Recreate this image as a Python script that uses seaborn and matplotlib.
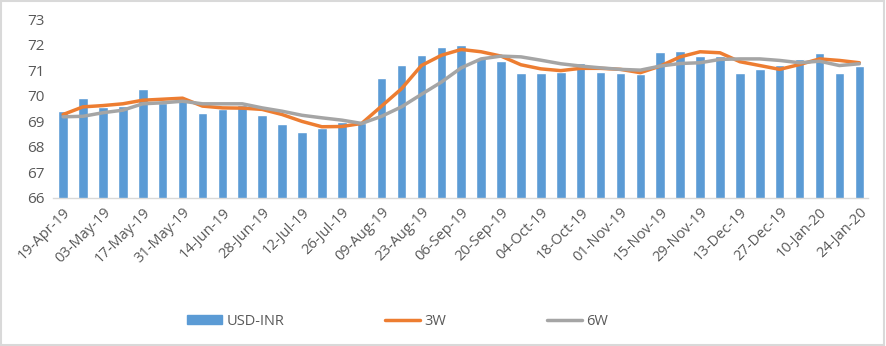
import numpy as np
import pandas as pd
import matplotlib
matplotlib.use("Agg")
import matplotlib.pyplot as plt
import seaborn as sns
from matplotlib.patches import Patch, Rectangle
from matplotlib.lines import Line2D

dates = ["19-Apr-19", "26-Apr-19", "03-May-19", "10-May-19", "17-May-19", "24-May-19",
         "31-May-19", "07-Jun-19", "14-Jun-19", "21-Jun-19", "28-Jun-19", "05-Jul-19",
         "12-Jul-19", "19-Jul-19", "26-Jul-19", "02-Aug-19", "09-Aug-19", "16-Aug-19",
         "23-Aug-19", "30-Aug-19", "06-Sep-19", "13-Sep-19", "20-Sep-19", "27-Sep-19",
         "04-Oct-19", "11-Oct-19", "18-Oct-19", "25-Oct-19", "01-Nov-19", "08-Nov-19",
         "15-Nov-19", "22-Nov-19", "29-Nov-19", "06-Dec-19", "13-Dec-19", "20-Dec-19",
         "27-Dec-19", "03-Jan-20", "10-Jan-20", "17-Jan-20", "24-Jan-20"]

usd_inr = [69.40, 69.90, 69.55, 69.60, 70.28, 69.73, 69.85, 69.34, 69.47, 69.66,
           69.27, 68.88, 68.58, 68.75, 68.97, 68.92, 70.70, 71.22, 71.60, 71.91,
           71.98, 71.50, 71.35, 70.91, 70.91, 70.95, 71.28, 70.93, 70.88, 70.85,
           71.73, 71.77, 71.56, 71.55, 70.91, 71.04, 71.21, 71.43, 71.70, 70.91, 71.19]

ma_3w = [69.27, 69.57, 69.62, 69.69, 69.83, 69.87, 69.91, 69.60, 69.53, 69.52,
         69.47, 69.27, 69.00, 68.79, 68.80, 68.92, 69.60, 70.28, 71.19, 71.59,
         71.82, 71.73, 71.56, 71.22, 71.06, 70.99, 71.08, 71.08, 71.04, 70.91,
         71.17, 71.53, 71.73, 71.69, 71.34, 71.19, 71.04, 71.23, 71.45, 71.39, 71.30]

ma_6w = [69.18, 69.20, 69.34, 69.44, 69.69, 69.73, 69.79, 69.69, 69.69, 69.69,
         69.53, 69.40, 69.24, 69.14, 69.05, 68.92, 69.20, 69.57, 70.06, 70.54,
         71.10, 71.45, 71.56, 71.53, 71.40, 71.26, 71.17, 71.10, 71.04, 71.01,
         71.17, 71.27, 71.30, 71.43, 71.45, 71.45, 71.39, 71.30, 71.36, 71.19, 71.26]

y_ticks = [66, 67, 68, 69, 70, 71, 72, 73]

df = pd.DataFrame({"date": dates, "USD-INR": usd_inr, "3W": ma_3w, "6W": ma_6w})

BLUE = "#5B9BD5"
ORANGE = "#ED7D31"
GRAY = "#A5A5A5"
TXT = "#595959"

sns.set_theme(style="white")
plt.rcParams["font.family"] = ["Open Sans", "DejaVu Sans"]

fig = plt.figure(figsize=(8.86, 3.46), dpi=100)
ax = fig.add_axes([0.060, 0.428, 0.920, 0.516])

sns.barplot(data=df, x="date", y="USD-INR", color=BLUE, width=0.48,
            saturation=1, ax=ax, order=dates)
sns.lineplot(data=df, x="date", y="3W", color=ORANGE, linewidth=2.5,
             sort=False, ax=ax)
sns.lineplot(data=df, x="date", y="6W", color=GRAY, linewidth=2.5,
             sort=False, ax=ax)

ax.set_ylim(66, 73)
ax.set_xlim(-0.5, 40.45)
ax.set_yticks(y_ticks)
ax.set_yticklabels([str(t) for t in y_ticks], fontsize=11, color=TXT)
ax.set_xticks(range(0, len(dates), 2))
ax.set_xticklabels(dates[::2], rotation=45, ha="right", va="top",
                   rotation_mode="anchor", fontsize=10.5, color=TXT)
ax.tick_params(axis="x", length=0, pad=5)
ax.tick_params(axis="y", length=0, pad=6)
ax.set_xlabel("")
ax.set_ylabel("")
for s in ["top", "right", "left"]:
    ax.spines[s].set_visible(False)
ax.spines["bottom"].set_color("#D9D9D9")
ax.spines["bottom"].set_linewidth(1)
ax.grid(False)

handles = [Patch(facecolor=BLUE, edgecolor=BLUE),
           Line2D([0], [0], color=ORANGE, lw=2.5),
           Line2D([0], [0], color=GRAY, lw=2.5)]
fig.legend(handles, ["USD-INR", "3W", "6W"], loc="center",
           bbox_to_anchor=(0.449, 0.072), ncol=3, frameon=False,
           fontsize=10.5, labelcolor=TXT, columnspacing=6.9,
           handlelength=2.4, handletextpad=0.3, handleheight=0.6)

fig.patches.append(Rectangle((0.001, 0.002), 0.997, 0.995, transform=fig.transFigure,
                             fill=False, edgecolor="#D9D9D9", linewidth=1.5))

fig.savefig("out.png", dpi=100)
